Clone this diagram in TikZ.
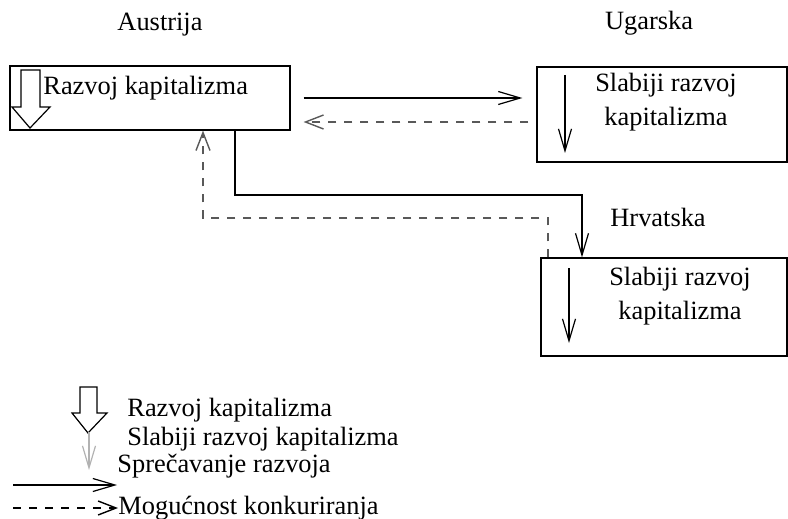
\documentclass[tikz,border=0pt]{standalone}
\usepackage{fontspec}
\setmainfont{Liberation Serif}
\usetikzlibrary{arrows.meta}
\tikzset{
	box/.style={draw, line width=0.6pt, rectangle, inner sep=0pt},
	lbl/.style={font=\fontsize{13.2}{17}\selectfont, inner sep=0pt},
	solidarr/.style={line width=0.6pt, -{Straight Barb[length=11pt,width=6.5pt]}},
	dasharr/.style={line width=0.7pt, gray!70!black, dash pattern=on 4pt off 4pt, -{Straight Barb[length=9pt,width=7pt]}},
	hollow/.style={draw, line width=0.6pt, fill=white},
}
\begin{document}
\begin{tikzpicture}[x=0.5pt,y=-0.5pt]
				\useasboundingbox (0,0) rectangle (788,519);
				% boxes
				\node[box, minimum width=140pt, minimum height=32pt](aus) at (150,98){};
				\node[box, minimum width=125pt, minimum height=47.5pt](ugr) at (662,114.5){};
				\node[box, minimum width=123pt, minimum height=49pt](hrv) at (664,307){};
				\node[lbl](austrija) at (160,25){Austrija};
				\node[lbl](ugarska) at (649,23){Ugarska};
				\node[lbl, anchor=west](hrvatska) at (610,217){Hrvatska};
				\node[lbl, anchor=west](ausTxt) at (43,88){Razvoj kapitalizma};
				\node[lbl, align=center](ugrTxt) at (666,102){Slabiji razvoj\\kapitalizma};
				\node[lbl, align=center](hrvTxt) at (680,296){Slabiji razvoj\\kapitalizma};
				\draw[hollow] (21,70) -- (40,70) -- (40,107) -- (50,107) -- (30,128) -- (12,107) -- (21,107) -- cycle;
				\coordinate(u1) at (565,75);
				\coordinate(u2) at (565,153);
				\draw[solidarr](u1) to (u2);
				\coordinate(h1) at (569,268);
				\coordinate(h2) at (569,343);
				\draw[solidarr](h1) to (h2);
				% connectors
				\draw[solidarr, shorten <=6.5pt, shorten >=7pt](aus.east) to (aus.east -| ugr.west);
				\coordinate(r1) at (300,122);
				\draw[dasharr, shorten <=4pt, shorten >=6.5pt](ugr.west |- r1) to (aus.east |- r1);
				\coordinate(a1) at (235,195);
				\coordinate(a2) at (582,195);
				\draw[solidarr](aus.south -| a1) -- (a1) -- (a2) -- (a2 |- hrv.north);
				\coordinate(d1) at (548,218);
				\coordinate(d2) at (203,218);
				\draw[dasharr](d1 |- hrv.north) -- (d1) -- (d2) -- (d2 |- aus.south);
				% legend
				\draw[hollow] (80,387) -- (97,387) -- (97,413) -- (107,413) -- (88,433) -- (72,413) -- (80,413) -- cycle;
				\coordinate(k1) at (89,432);
				\coordinate(k2) at (89,470);
				\draw[solidarr, gray!60](k1) to (k2);
				\node[lbl, anchor=west](legRazvoj) at (127,410){Razvoj kapitalizma};
				\node[lbl, anchor=west](legSlabiji) at (127,439){Slabiji razvoj kapitalizma};
				\node[lbl, anchor=west](legSprec) at (117,466){Sprečavanje razvoja};
				\node[lbl, anchor=west](legMoguc) at (118,508){Mogućnost konkuriranja};
				\coordinate(s1) at (13,485);
				\draw[solidarr](s1) to (s1 -| legSprec.west);
				\coordinate(m1) at (13,508);
				\draw[dasharr, black](m1) to (legMoguc.west);
			\end{tikzpicture}
\end{document}
